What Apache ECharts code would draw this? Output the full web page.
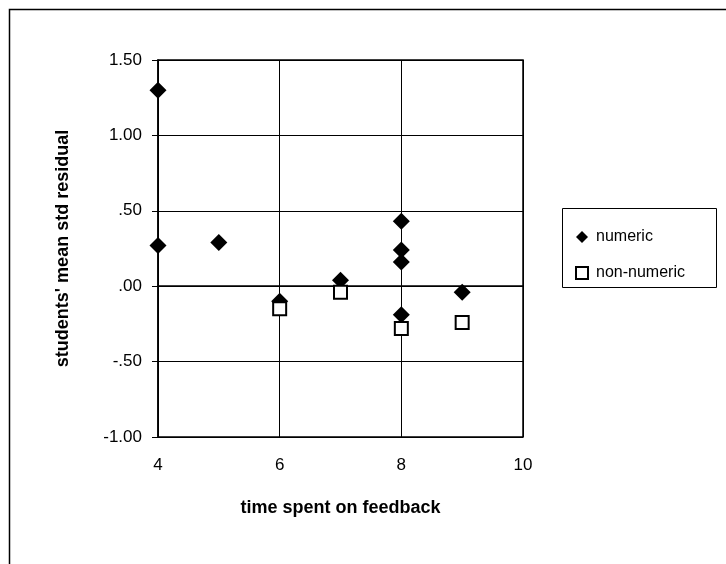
<!DOCTYPE html>
<html>
<head>
<meta charset="utf-8">
<script src="https://cdn.jsdelivr.net/npm/echarts@6/dist/echarts.min.js"></script>
<style>
  html, body { margin: 0; padding: 0; background: #fff; }
  #chart { width: 726px; height: 564px; }
</style>
</head>
<body>
<div id="chart"></div>
<script>
// time spent on feedback vs students' mean std residual
var numericX = [4, 4, 5, 6, 7, 8, 8, 8, 8, 9];
var numericY = [1.30, 0.27, 0.29, -0.10, 0.04, 0.43, 0.24, 0.16, -0.19, -0.04];
var nonNumericX = [6, 7, 8, 9];
var nonNumericY = [-0.15, -0.04, -0.28, -0.24];
var yTickLabels = { '1.5': '1.50', '1': '1.00', '0.5': '.50', '0': '.00', '-0.5': '-.50', '-1': '-1.00' };

var font = "'Liberation Sans', Arial, sans-serif";

var myChart = echarts.init(document.getElementById('chart'));

var option = {
  backgroundColor: '#fff',
  animation: false,
  textStyle: { fontFamily: font, color: '#000' },
  graphic: [
    // outer chart frame
    { type: 'rect', left: 7, top: 7, shape: { width: 740, height: 600 },
      style: { fill: 'none', stroke: '#000', lineWidth: 1.5 } },
    // legend frame
    { type: 'rect', left: 562, top: 208, shape: { width: 154, height: 79 },
      style: { fill: '#fff', stroke: '#000', lineWidth: 1 }, z: 0 }
  ],
  grid: { left: 158, right: 203, top: 60, bottom: 127, show: true, borderColor: '#000', borderWidth: 1.5 },
  legend: {
    orient: 'vertical',
    left: 570,
    top: 222,
    itemWidth: 12,
    itemHeight: 12,
    itemGap: 16,
    z: 5,
    textStyle: { fontSize: 16, fontFamily: font, color: '#000', lineHeight: 20, padding: [0, 0, 0, 3] },
    data: [
      { name: 'numeric', icon: 'diamond' },
      { name: 'non-numeric', icon: 'rect' }
    ]
  },
  xAxis: {
    type: 'value',
    min: 4,
    max: 10,
    interval: 2,
    name: 'time spent on feedback',
    nameLocation: 'middle',
    nameGap: 62,
    nameTextStyle: { fontSize: 18, fontWeight: 'bold', color: '#000', fontFamily: font },
    axisLine: { show: true, lineStyle: { color: '#000', width: 1.5 } },
    axisTick: { show: true, length: 6, lineStyle: { color: '#000' } },
    axisLabel: { fontSize: 17, color: '#000', margin: 20, fontFamily: font },
    splitLine: { show: true, lineStyle: { color: '#000', width: 1 } }
  },
  yAxis: {
    type: 'value',
    min: -1,
    max: 1.5,
    interval: 0.5,
    name: "students' mean std residual",
    nameLocation: 'middle',
    nameGap: 86,
    nameTextStyle: { fontSize: 18, fontWeight: 'bold', color: '#000', fontFamily: font },
    axisLine: { show: true, lineStyle: { color: '#000', width: 1.5 } },
    axisTick: { show: true, length: 6, lineStyle: { color: '#000' } },
    axisLabel: {
      fontSize: 17, color: '#000', margin: 16, fontFamily: font,
      formatter: function (v) { return yTickLabels[String(v)] || ''; }
    },
    splitLine: { show: true, lineStyle: { color: '#000', width: 1 } }
  },
  series: [
    {
      name: 'numeric',
      type: 'scatter',
      symbol: 'diamond',
      symbolSize: 17,
      itemStyle: { color: '#000', opacity: 1 },
      data: numericX.map(function (x, i) { return [x, numericY[i]]; })
    },
    {
      name: 'non-numeric',
      type: 'scatter',
      symbol: 'rect',
      symbolSize: 13,
      itemStyle: { color: '#fff', borderColor: '#000', borderWidth: 2, opacity: 1 },
      data: nonNumericX.map(function (x, i) { return [x, nonNumericY[i]]; })
    }
  ]
};

myChart.setOption(option);
</script>
</body>
</html>
